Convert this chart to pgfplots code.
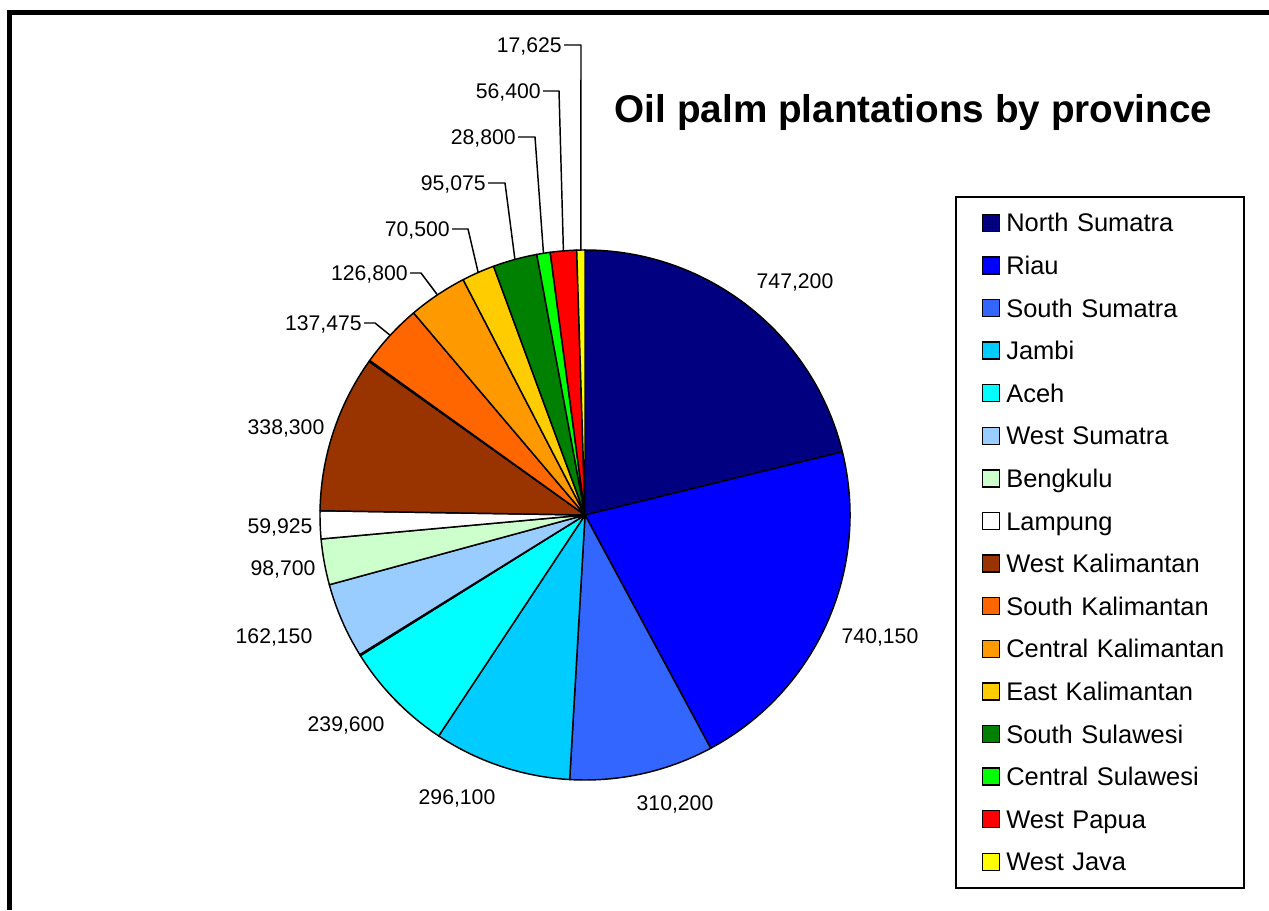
\documentclass[border=0pt]{standalone}
\usepackage{pgfplots}
\pgfplotsset{compat=1.18}
\usepackage{pgfplotstable}
\usepackage{fontspec}
\setmainfont{Liberation Sans}

\definecolor{cNSum}{HTML}{000080}
\definecolor{cRiau}{HTML}{0000FF}
\definecolor{cSSum}{HTML}{3366FF}
\definecolor{cJamb}{HTML}{00CCFF}
\definecolor{cAceh}{HTML}{00FFFF}
\definecolor{cWSum}{HTML}{99CCFF}
\definecolor{cBeng}{HTML}{CCFFCC}
\definecolor{cLamp}{HTML}{FFFFFF}
\definecolor{cWKal}{HTML}{993300}
\definecolor{cSKal}{HTML}{FF6600}
\definecolor{cCKal}{HTML}{FF9900}
\definecolor{cEKal}{HTML}{FFCC00}
\definecolor{cSSul}{HTML}{008000}
\definecolor{cCSul}{HTML}{00FF00}
\definecolor{cWPap}{HTML}{FF0000}
\definecolor{cWJav}{HTML}{FFFF00}

% value, colour, legend flag, label position (pixels of the 1269x910 frame), anchor, leader elbow x
\pgfplotstableread[col sep=comma]{
name,value,color,leg,lx,ly,anc,ex
North Sumatra,747200,cNSum,1,795,281,center,0
Riau,740150,cRiau,1,880,636,center,0
South Sumatra,310200,cSSum,1,675,803,center,0
Jambi,296100,cJamb,1,457,797,center,0
Aceh,239600,cAceh,1,346,724,center,0
other,2500,white,0,0,0,center,0
West Sumatra,162150,cWSum,1,274,636,center,0
Bengkulu,98700,cBeng,1,283,568,center,0
Lampung,59925,cLamp,1,280,526,center,0
West Kalimantan,338300,cWKal,1,286,427,center,0
other,2500,white,0,0,0,center,0
South Kalimantan,137475,cSKal,1,362,323,east,375
Central Kalimantan,126800,cCKal,1,408,273,east,421
East Kalimantan,70500,cEKal,1,450,229,east,468
South Sulawesi,95075,cSSul,1,486,183,east,505
Central Sulawesi,28800,cCSul,1,516,137,east,535
West Papua,56400,cWPap,1,541,91,east,559
West Java,17625,cWJav,1,562,45,east,581
}\pietable

\newcommand\labfont{\fontsize{15.9pt}{18pt}\selectfont}
\newcommand\legfont{\fontsize{19.1pt}{22pt}\selectfont}
\pgfkeys{/pgf/number format/.cd,fixed,precision=0,1000 sep={,},assume math mode=true}

\begin{document}
\begin{tikzpicture}
\pgfplotstablegetrowsof{\pietable}
\pgfmathtruncatemacro\lastrow{\pgfplotsretval-1}
\def\total{0}
\pgfplotsforeachungrouped \ii in {0,...,\lastrow}{%
  \pgfplotstablegetelem{\ii}{value}\of\pietable
  \edef\total{\fpeval{\total+\pgfplotsretval}}%
}
\def\cum{0}\def\slicecmds{}\def\labelcmds{}\def\legcmds{}\def\leadcmds{}
\pgfplotsforeachungrouped \ii in {0,...,\lastrow}{%
  \pgfplotstablegetelem{\ii}{name}\of\pietable \let\nm\pgfplotsretval
  \pgfplotstablegetelem{\ii}{value}\of\pietable \let\val\pgfplotsretval
  \pgfplotstablegetelem{\ii}{color}\of\pietable \let\col\pgfplotsretval
  \pgfplotstablegetelem{\ii}{leg}\of\pietable \let\lg\pgfplotsretval
  \pgfplotstablegetelem{\ii}{lx}\of\pietable \let\lx\pgfplotsretval
  \pgfplotstablegetelem{\ii}{ly}\of\pietable \let\ly\pgfplotsretval
  \pgfplotstablegetelem{\ii}{anc}\of\pietable \let\anc\pgfplotsretval
  \pgfplotstablegetelem{\ii}{ex}\of\pietable \let\ex\pgfplotsretval
  \edef\sa{\fpeval{round(90-360*\cum/\total,4)}}%
  \edef\cum{\fpeval{\cum+\val}}%
  \edef\ea{\fpeval{round(90-360*\cum/\total,4)}}%
  \edef\ma{\fpeval{(\sa+\ea)/2}}%
  \edef\sx{\fpeval{round(585+265*cosd(\sa),3)}}%
  \edef\sy{\fpeval{round(395+265*sind(\sa),3)}}%
  \edef\mx{\fpeval{round(585+265*cosd(\ma),3)}}%
  \edef\my{\fpeval{round(395+265*sind(\ma),3)}}%
  \edef\lyy{\fpeval{910-\ly}}%
  \edef\lxp{\fpeval{\lx+2}}%
  \edef\slicecmds{\unexpanded\expandafter{\slicecmds}%
    \noexpand\fill[fill=\col,draw=black,line width=1.1pt,line join=round]
    (axis cs:585,395) -- (axis cs:\sx,\sy)
    arc[start angle=\sa,end angle=\ea,radius=198.75pt] -- cycle;}%
  \ifnum\lg=1
    \edef\labelcmds{\unexpanded\expandafter{\labelcmds}%
      \noexpand\node[anchor=\anc,font=\noexpand\labfont,text height=11.4pt,text depth=0pt,inner sep=0pt]
      at (axis cs:\lx,\lyy) {\noexpand\pgfmathprintnumber{\val}};}%
    \edef\legcmds{\unexpanded\expandafter{\legcmds}%
      \noexpand\addlegendimage{fill=\col,draw=black,line width=1.1pt}%
      \noexpand\addlegendentry{\nm}}%
  \fi
  \ifnum\ex>0
    \edef\leadcmds{\unexpanded\expandafter{\leadcmds}%
      \noexpand\draw[line width=1.1pt,line join=round]
      (axis cs:\lxp,\lyy) -- (axis cs:\ex,\lyy) -- (axis cs:\mx,\my);}%
  \fi
}
\begin{axis}[
  x=0.75pt, y=0.75pt,
  xmin=0, xmax=1269, ymin=0, ymax=910,
  hide axis, clip=false,
  legend cell align=left,
  legend image code/.code={\path (-19.5pt,0pt);\draw[#1] (0pt,-6.375pt) rectangle (12.75pt,6.375pt);},
  legend style={at={(axis cs:955,714)}, anchor=north west,
    draw=black, line width=1.2pt, fill=white,
    inner xsep=0pt, inner ysep=8.65pt,
    row sep=10.25pt, column sep=4.5pt,
    font=\legfont,
    nodes={inner sep=0pt, text height=17.7pt, text depth=4pt, text width=178.5pt}},
]
\coordinate (BL) at (axis cs:0,0);
\coordinate (TR) at (axis cs:1269,910);
\slicecmds
\leadcmds
\labelcmds
\legcmds
\node[font=\bfseries\fontsize{29pt}{34pt}\selectfont, text height=20.8pt, text depth=0pt, inner sep=0pt]
  at (axis cs:913.5,801) {Oil palm plantations by province};
\draw[line width=3.75pt] (axis cs:9.5,0) -- (axis cs:9.5,897.5) -- (axis cs:1269,897.5);
\end{axis}
\pgfresetboundingbox
\path[use as bounding box] (BL) rectangle (TR);
\end{tikzpicture}
\end{document}
